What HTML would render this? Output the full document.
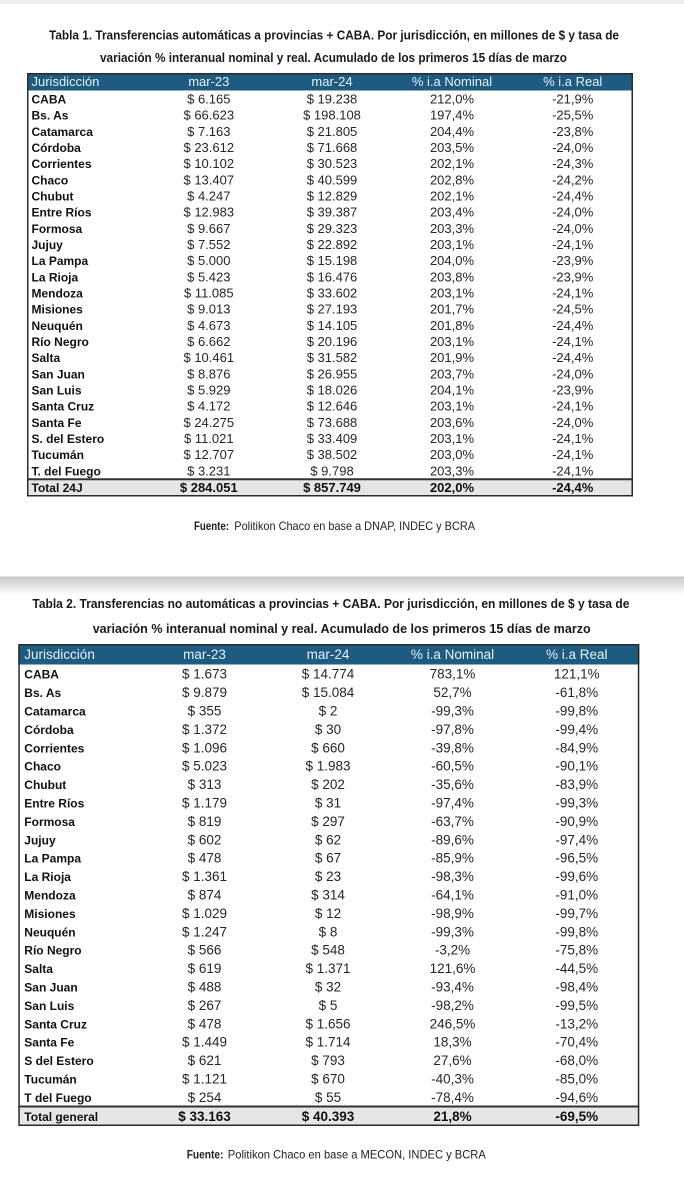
<!DOCTYPE html>
<html><head><meta charset="utf-8"><style>
html,body{margin:0;padding:0;background:#fff;}
svg{display:block}
.t{font-family:"Liberation Sans",sans-serif;font-weight:bold;fill:#1a1a1a;}
.h1{font-family:"Liberation Sans",sans-serif;font-size:13px;fill:#e8f0f6;}
.h2{font-family:"Liberation Sans",sans-serif;font-size:13.5px;fill:#e8f0f6;}
.l1{font-family:"Liberation Sans",sans-serif;font-weight:bold;font-size:12px;fill:#111;}
.n1{font-family:"Liberation Sans",sans-serif;font-size:13px;fill:#262626;text-anchor:middle;}
.l2{font-family:"Liberation Sans",sans-serif;font-weight:bold;font-size:12px;fill:#111;}
.n2{font-family:"Liberation Sans",sans-serif;font-size:13.5px;fill:#262626;text-anchor:middle;}
.b{font-weight:bold;fill:#111;}
.m{text-anchor:middle;}
.f{font-family:"Liberation Sans",sans-serif;font-size:12px;fill:#222;}
</style></head><body>
<svg width="684" height="1200" viewBox="0 0 684 1200" xmlns="http://www.w3.org/2000/svg">
<defs>
<linearGradient id="gb" x1="0" y1="0" x2="0" y2="1">
<stop offset="0" stop-color="#c8c8c8"/>
<stop offset="0.5" stop-color="#e2e2e2"/>
<stop offset="1" stop-color="#ffffff"/>
</linearGradient>
</defs>
<rect x="0" y="0" width="684" height="1200" fill="#fff"/>
<rect x="0" y="0" width="684" height="4" fill="#ececec"/>

<!-- TABLE 1 TITLE -->
<text class="t" x="49" y="39.5" font-size="12.5" textLength="570" lengthAdjust="spacingAndGlyphs">Tabla 1. Transferencias automáticas a provincias + CABA. Por jurisdicción, en millones de $ y tasa de</text>
<text class="t" x="100" y="62" font-size="12.5" textLength="467" lengthAdjust="spacingAndGlyphs">variación % interanual nominal y real. Acumulado de los primeros 15 días de marzo</text>

<!-- TABLE 1 -->
<rect x="27" y="73" width="606" height="17.5" fill="#1e5b80"/>
<rect x="27.75" y="479" width="604.5" height="16.5" fill="#e6e6e6"/>
<line x1="27" y1="479.3" x2="633" y2="479.3" stroke="#333" stroke-width="2"/>
<rect x="27.75" y="73.75" width="604.5" height="422" fill="none" stroke="#2b2b2b" stroke-width="1.5"/>

<text class="h1" x="31.5" y="86">Jurisdicción</text>
<text class="h1 m" x="208.8" y="86">mar-23</text>
<text class="h1 m" x="332" y="86">mar-24</text>
<text class="h1 m" x="452" y="86">% i.a Nominal</text>
<text class="h1 m" x="572.7" y="86">% i.a Real</text>

<g>
<text class="l1" x="31.5" y="103.5">CABA</text><text class="n1" x="208.8" y="103.5">$ 6.165</text><text class="n1" x="332" y="103.5">$ 19.238</text><text class="n1" x="452" y="103.5">212,0%</text><text class="n1" x="572.7" y="103.5">-21,9%</text>
<text class="l1" x="31.5" y="119.7">Bs. As</text><text class="n1" x="208.8" y="119.7">$ 66.623</text><text class="n1" x="332" y="119.7">$ 198.108</text><text class="n1" x="452" y="119.7">197,4%</text><text class="n1" x="572.7" y="119.7">-25,5%</text>
<text class="l1" x="31.5" y="135.8">Catamarca</text><text class="n1" x="208.8" y="135.8">$ 7.163</text><text class="n1" x="332" y="135.8">$ 21.805</text><text class="n1" x="452" y="135.8">204,4%</text><text class="n1" x="572.7" y="135.8">-23,8%</text>
<text class="l1" x="31.5" y="152.0">Córdoba</text><text class="n1" x="208.8" y="152.0">$ 23.612</text><text class="n1" x="332" y="152.0">$ 71.668</text><text class="n1" x="452" y="152.0">203,5%</text><text class="n1" x="572.7" y="152.0">-24,0%</text>
<text class="l1" x="31.5" y="168.2">Corrientes</text><text class="n1" x="208.8" y="168.2">$ 10.102</text><text class="n1" x="332" y="168.2">$ 30.523</text><text class="n1" x="452" y="168.2">202,1%</text><text class="n1" x="572.7" y="168.2">-24,3%</text>
<text class="l1" x="31.5" y="184.4">Chaco</text><text class="n1" x="208.8" y="184.4">$ 13.407</text><text class="n1" x="332" y="184.4">$ 40.599</text><text class="n1" x="452" y="184.4">202,8%</text><text class="n1" x="572.7" y="184.4">-24,2%</text>
<text class="l1" x="31.5" y="200.5">Chubut</text><text class="n1" x="208.8" y="200.5">$ 4.247</text><text class="n1" x="332" y="200.5">$ 12.829</text><text class="n1" x="452" y="200.5">202,1%</text><text class="n1" x="572.7" y="200.5">-24,4%</text>
<text class="l1" x="31.5" y="216.7">Entre Ríos</text><text class="n1" x="208.8" y="216.7">$ 12.983</text><text class="n1" x="332" y="216.7">$ 39.387</text><text class="n1" x="452" y="216.7">203,4%</text><text class="n1" x="572.7" y="216.7">-24,0%</text>
<text class="l1" x="31.5" y="232.9">Formosa</text><text class="n1" x="208.8" y="232.9">$ 9.667</text><text class="n1" x="332" y="232.9">$ 29.323</text><text class="n1" x="452" y="232.9">203,3%</text><text class="n1" x="572.7" y="232.9">-24,0%</text>
<text class="l1" x="31.5" y="249.0">Jujuy</text><text class="n1" x="208.8" y="249.0">$ 7.552</text><text class="n1" x="332" y="249.0">$ 22.892</text><text class="n1" x="452" y="249.0">203,1%</text><text class="n1" x="572.7" y="249.0">-24,1%</text>
<text class="l1" x="31.5" y="265.2">La Pampa</text><text class="n1" x="208.8" y="265.2">$ 5.000</text><text class="n1" x="332" y="265.2">$ 15.198</text><text class="n1" x="452" y="265.2">204,0%</text><text class="n1" x="572.7" y="265.2">-23,9%</text>
<text class="l1" x="31.5" y="281.4">La Rioja</text><text class="n1" x="208.8" y="281.4">$ 5.423</text><text class="n1" x="332" y="281.4">$ 16.476</text><text class="n1" x="452" y="281.4">203,8%</text><text class="n1" x="572.7" y="281.4">-23,9%</text>
<text class="l1" x="31.5" y="297.5">Mendoza</text><text class="n1" x="208.8" y="297.5">$ 11.085</text><text class="n1" x="332" y="297.5">$ 33.602</text><text class="n1" x="452" y="297.5">203,1%</text><text class="n1" x="572.7" y="297.5">-24,1%</text>
<text class="l1" x="31.5" y="313.7">Misiones</text><text class="n1" x="208.8" y="313.7">$ 9.013</text><text class="n1" x="332" y="313.7">$ 27.193</text><text class="n1" x="452" y="313.7">201,7%</text><text class="n1" x="572.7" y="313.7">-24,5%</text>
<text class="l1" x="31.5" y="329.9">Neuquén</text><text class="n1" x="208.8" y="329.9">$ 4.673</text><text class="n1" x="332" y="329.9">$ 14.105</text><text class="n1" x="452" y="329.9">201,8%</text><text class="n1" x="572.7" y="329.9">-24,4%</text>
<text class="l1" x="31.5" y="346.1">Río Negro</text><text class="n1" x="208.8" y="346.1">$ 6.662</text><text class="n1" x="332" y="346.1">$ 20.196</text><text class="n1" x="452" y="346.1">203,1%</text><text class="n1" x="572.7" y="346.1">-24,1%</text>
<text class="l1" x="31.5" y="362.2">Salta</text><text class="n1" x="208.8" y="362.2">$ 10.461</text><text class="n1" x="332" y="362.2">$ 31.582</text><text class="n1" x="452" y="362.2">201,9%</text><text class="n1" x="572.7" y="362.2">-24,4%</text>
<text class="l1" x="31.5" y="378.4">San Juan</text><text class="n1" x="208.8" y="378.4">$ 8.876</text><text class="n1" x="332" y="378.4">$ 26.955</text><text class="n1" x="452" y="378.4">203,7%</text><text class="n1" x="572.7" y="378.4">-24,0%</text>
<text class="l1" x="31.5" y="394.6">San Luis</text><text class="n1" x="208.8" y="394.6">$ 5.929</text><text class="n1" x="332" y="394.6">$ 18.026</text><text class="n1" x="452" y="394.6">204,1%</text><text class="n1" x="572.7" y="394.6">-23,9%</text>
<text class="l1" x="31.5" y="410.7">Santa Cruz</text><text class="n1" x="208.8" y="410.7">$ 4.172</text><text class="n1" x="332" y="410.7">$ 12.646</text><text class="n1" x="452" y="410.7">203,1%</text><text class="n1" x="572.7" y="410.7">-24,1%</text>
<text class="l1" x="31.5" y="426.9">Santa Fe</text><text class="n1" x="208.8" y="426.9">$ 24.275</text><text class="n1" x="332" y="426.9">$ 73.688</text><text class="n1" x="452" y="426.9">203,6%</text><text class="n1" x="572.7" y="426.9">-24,0%</text>
<text class="l1" x="31.5" y="443.1">S. del Estero</text><text class="n1" x="208.8" y="443.1">$ 11.021</text><text class="n1" x="332" y="443.1">$ 33.409</text><text class="n1" x="452" y="443.1">203,1%</text><text class="n1" x="572.7" y="443.1">-24,1%</text>
<text class="l1" x="31.5" y="459.2">Tucumán</text><text class="n1" x="208.8" y="459.2">$ 12.707</text><text class="n1" x="332" y="459.2">$ 38.502</text><text class="n1" x="452" y="459.2">203,0%</text><text class="n1" x="572.7" y="459.2">-24,1%</text>
<text class="l1" x="31.5" y="475.4">T. del Fuego</text><text class="n1" x="208.8" y="475.4">$ 3.231</text><text class="n1" x="332" y="475.4">$ 9.798</text><text class="n1" x="452" y="475.4">203,3%</text><text class="n1" x="572.7" y="475.4">-24,1%</text>
<text class="l1" x="31.5" y="492">Total 24J</text><text class="n1 b" x="208.8" y="492">$ 284.051</text><text class="n1 b" x="332" y="492">$ 857.749</text><text class="n1 b" x="452" y="492">202,0%</text><text class="n1 b" x="572.7" y="492">-24,4%</text>
</g>

<text class="f b" x="194" y="530" textLength="35" lengthAdjust="spacingAndGlyphs">Fuente:</text>
<text class="f" x="234.3" y="530" textLength="240.7" lengthAdjust="spacingAndGlyphs">Politikon Chaco en base a DNAP, INDEC y BCRA</text>

<!-- separator band -->
<rect x="0" y="576.5" width="684" height="18" fill="url(#gb)"/>

<!-- TABLE 2 TITLE -->
<text class="t" x="32.4" y="608" font-size="13" textLength="597" lengthAdjust="spacingAndGlyphs">Tabla 2. Transferencias no automáticas a provincias + CABA. Por jurisdicción, en millones de $ y tasa de</text>
<text class="t" x="92.7" y="633" font-size="13" textLength="498" lengthAdjust="spacingAndGlyphs">variación % interanual nominal y real. Acumulado de los primeros 15 días de marzo</text>

<!-- TABLE 2 -->
<rect x="18.3" y="644" width="621" height="20.5" fill="#1e5b80"/>
<rect x="19" y="1106.3" width="619.5" height="18.5" fill="#e6e6e6"/>
<line x1="18.3" y1="1106.5" x2="639.3" y2="1106.5" stroke="#333" stroke-width="2"/>
<rect x="19.05" y="644.75" width="619.5" height="480.5" fill="none" stroke="#2b2b2b" stroke-width="1.5"/>

<text class="h2" x="24.3" y="658.8">Jurisdicción</text>
<text class="h2 m" x="204.5" y="658.8">mar-23</text>
<text class="h2 m" x="328" y="658.8">mar-24</text>
<text class="h2 m" x="452.5" y="658.8">% i.a Nominal</text>
<text class="h2 m" x="576.8" y="658.8">% i.a Real</text>

<g>
<text class="l2" x="24.3" y="678.7">CABA</text><text class="n2" x="204.5" y="678.7">$ 1.673</text><text class="n2" x="328" y="678.7">$ 14.774</text><text class="n2" x="452.5" y="678.7">783,1%</text><text class="n2" x="576.8" y="678.7">121,1%</text>
<text class="l2" x="24.3" y="697.1">Bs. As</text><text class="n2" x="204.5" y="697.1">$ 9.879</text><text class="n2" x="328" y="697.1">$ 15.084</text><text class="n2" x="452.5" y="697.1">52,7%</text><text class="n2" x="576.8" y="697.1">-61,8%</text>
<text class="l2" x="24.3" y="715.5">Catamarca</text><text class="n2" x="204.5" y="715.5">$ 355</text><text class="n2" x="328" y="715.5">$ 2</text><text class="n2" x="452.5" y="715.5">-99,3%</text><text class="n2" x="576.8" y="715.5">-99,8%</text>
<text class="l2" x="24.3" y="733.9">Córdoba</text><text class="n2" x="204.5" y="733.9">$ 1.372</text><text class="n2" x="328" y="733.9">$ 30</text><text class="n2" x="452.5" y="733.9">-97,8%</text><text class="n2" x="576.8" y="733.9">-99,4%</text>
<text class="l2" x="24.3" y="752.3">Corrientes</text><text class="n2" x="204.5" y="752.3">$ 1.096</text><text class="n2" x="328" y="752.3">$ 660</text><text class="n2" x="452.5" y="752.3">-39,8%</text><text class="n2" x="576.8" y="752.3">-84,9%</text>
<text class="l2" x="24.3" y="770.7">Chaco</text><text class="n2" x="204.5" y="770.7">$ 5.023</text><text class="n2" x="328" y="770.7">$ 1.983</text><text class="n2" x="452.5" y="770.7">-60,5%</text><text class="n2" x="576.8" y="770.7">-90,1%</text>
<text class="l2" x="24.3" y="789.1">Chubut</text><text class="n2" x="204.5" y="789.1">$ 313</text><text class="n2" x="328" y="789.1">$ 202</text><text class="n2" x="452.5" y="789.1">-35,6%</text><text class="n2" x="576.8" y="789.1">-83,9%</text>
<text class="l2" x="24.3" y="807.5">Entre Ríos</text><text class="n2" x="204.5" y="807.5">$ 1.179</text><text class="n2" x="328" y="807.5">$ 31</text><text class="n2" x="452.5" y="807.5">-97,4%</text><text class="n2" x="576.8" y="807.5">-99,3%</text>
<text class="l2" x="24.3" y="825.9">Formosa</text><text class="n2" x="204.5" y="825.9">$ 819</text><text class="n2" x="328" y="825.9">$ 297</text><text class="n2" x="452.5" y="825.9">-63,7%</text><text class="n2" x="576.8" y="825.9">-90,9%</text>
<text class="l2" x="24.3" y="844.3">Jujuy</text><text class="n2" x="204.5" y="844.3">$ 602</text><text class="n2" x="328" y="844.3">$ 62</text><text class="n2" x="452.5" y="844.3">-89,6%</text><text class="n2" x="576.8" y="844.3">-97,4%</text>
<text class="l2" x="24.3" y="862.7">La Pampa</text><text class="n2" x="204.5" y="862.7">$ 478</text><text class="n2" x="328" y="862.7">$ 67</text><text class="n2" x="452.5" y="862.7">-85,9%</text><text class="n2" x="576.8" y="862.7">-96,5%</text>
<text class="l2" x="24.3" y="881.1">La Rioja</text><text class="n2" x="204.5" y="881.1">$ 1.361</text><text class="n2" x="328" y="881.1">$ 23</text><text class="n2" x="452.5" y="881.1">-98,3%</text><text class="n2" x="576.8" y="881.1">-99,6%</text>
<text class="l2" x="24.3" y="899.5">Mendoza</text><text class="n2" x="204.5" y="899.5">$ 874</text><text class="n2" x="328" y="899.5">$ 314</text><text class="n2" x="452.5" y="899.5">-64,1%</text><text class="n2" x="576.8" y="899.5">-91,0%</text>
<text class="l2" x="24.3" y="917.9">Misiones</text><text class="n2" x="204.5" y="917.9">$ 1.029</text><text class="n2" x="328" y="917.9">$ 12</text><text class="n2" x="452.5" y="917.9">-98,9%</text><text class="n2" x="576.8" y="917.9">-99,7%</text>
<text class="l2" x="24.3" y="936.3">Neuquén</text><text class="n2" x="204.5" y="936.3">$ 1.247</text><text class="n2" x="328" y="936.3">$ 8</text><text class="n2" x="452.5" y="936.3">-99,3%</text><text class="n2" x="576.8" y="936.3">-99,8%</text>
<text class="l2" x="24.3" y="954.7">Río Negro</text><text class="n2" x="204.5" y="954.7">$ 566</text><text class="n2" x="328" y="954.7">$ 548</text><text class="n2" x="452.5" y="954.7">-3,2%</text><text class="n2" x="576.8" y="954.7">-75,8%</text>
<text class="l2" x="24.3" y="973.1">Salta</text><text class="n2" x="204.5" y="973.1">$ 619</text><text class="n2" x="328" y="973.1">$ 1.371</text><text class="n2" x="452.5" y="973.1">121,6%</text><text class="n2" x="576.8" y="973.1">-44,5%</text>
<text class="l2" x="24.3" y="991.5">San Juan</text><text class="n2" x="204.5" y="991.5">$ 488</text><text class="n2" x="328" y="991.5">$ 32</text><text class="n2" x="452.5" y="991.5">-93,4%</text><text class="n2" x="576.8" y="991.5">-98,4%</text>
<text class="l2" x="24.3" y="1009.9">San Luis</text><text class="n2" x="204.5" y="1009.9">$ 267</text><text class="n2" x="328" y="1009.9">$ 5</text><text class="n2" x="452.5" y="1009.9">-98,2%</text><text class="n2" x="576.8" y="1009.9">-99,5%</text>
<text class="l2" x="24.3" y="1028.3">Santa Cruz</text><text class="n2" x="204.5" y="1028.3">$ 478</text><text class="n2" x="328" y="1028.3">$ 1.656</text><text class="n2" x="452.5" y="1028.3">246,5%</text><text class="n2" x="576.8" y="1028.3">-13,2%</text>
<text class="l2" x="24.3" y="1046.7">Santa Fe</text><text class="n2" x="204.5" y="1046.7">$ 1.449</text><text class="n2" x="328" y="1046.7">$ 1.714</text><text class="n2" x="452.5" y="1046.7">18,3%</text><text class="n2" x="576.8" y="1046.7">-70,4%</text>
<text class="l2" x="24.3" y="1065.1">S del Estero</text><text class="n2" x="204.5" y="1065.1">$ 621</text><text class="n2" x="328" y="1065.1">$ 793</text><text class="n2" x="452.5" y="1065.1">27,6%</text><text class="n2" x="576.8" y="1065.1">-68,0%</text>
<text class="l2" x="24.3" y="1083.5">Tucumán</text><text class="n2" x="204.5" y="1083.5">$ 1.121</text><text class="n2" x="328" y="1083.5">$ 670</text><text class="n2" x="452.5" y="1083.5">-40,3%</text><text class="n2" x="576.8" y="1083.5">-85,0%</text>
<text class="l2" x="24.3" y="1101.9">T del Fuego</text><text class="n2" x="204.5" y="1101.9">$ 254</text><text class="n2" x="328" y="1101.9">$ 55</text><text class="n2" x="452.5" y="1101.9">-78,4%</text><text class="n2" x="576.8" y="1101.9">-94,6%</text>
<text class="l2" x="24.3" y="1121">Total general</text><text class="n2 b" x="204.5" y="1121">$ 33.163</text><text class="n2 b" x="328" y="1121">$ 40.393</text><text class="n2 b" x="452.5" y="1121">21,8%</text><text class="n2 b" x="576.8" y="1121">-69,5%</text>
</g>

<text class="f b" x="186.7" y="1158.5" textLength="36.7" lengthAdjust="spacingAndGlyphs">Fuente:</text>
<text class="f" x="227.8" y="1158.5" textLength="258" lengthAdjust="spacingAndGlyphs">Politikon Chaco en base a MECON, INDEC y BCRA</text>
</svg>
</body></html>
